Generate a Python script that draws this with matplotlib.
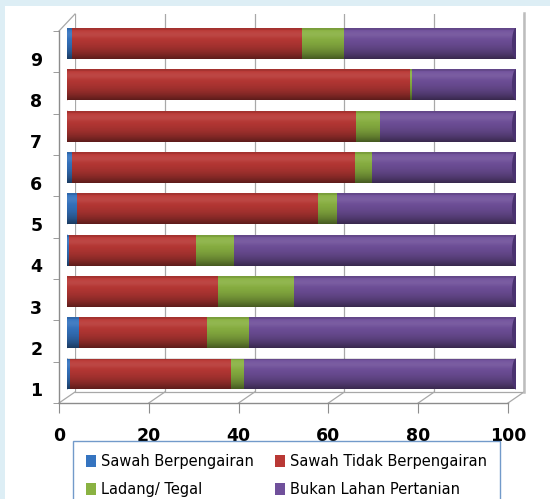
import numpy as np
import matplotlib
matplotlib.use('Agg')
import matplotlib.pyplot as plt
from matplotlib.patches import Rectangle, Ellipse

plt.rcParams['font.family'] = ['DejaVu Sans']

# data (percent of area per kecamatan / row)
kategori = ['1', '2', '3', '4', '5', '6', '7', '8', '9']
sawah_berpengairan = [0.6, 2.7, 0.0, 0.5, 2.3, 1.1, 0.0, 0.0, 1.1]
sawah_tidak = [36.0, 28.5, 33.7, 28.3, 53.7, 63.0, 64.4, 76.5, 51.3]
ladang_tegal = [2.8, 9.3, 16.8, 8.5, 4.1, 3.8, 5.2, 0.3, 9.2]
bukan_pertanian = [60.6, 59.5, 49.5, 62.7, 39.9, 32.1, 30.4, 23.2, 38.4]

nama_seri = ['Sawah Berpengairan', 'Sawah Tidak Berpengairan',
             'Ladang/ Tegal', 'Bukan Lahan Pertanian']
warna = ['#3574C0', '#B93835', '#8AB242', '#70509B']
warna_tutup = ['#2B5C99', '#8E2A28', '#6A8C30', '#4A3270']

W, H = 550, 499
fig = plt.figure(figsize=(W / 100, H / 100), dpi=100)
fig.patch.set_facecolor('#DDEEF5')
fig.patches.append(Rectangle((5 / W, 0), 1, (H - 6) / H, transform=fig.transFigure,
                             facecolor='white', edgecolor='none', zorder=-5))


def px_axes(x0, x1, ytop, ybot, **kw):
    return fig.add_axes([x0 / W, 1 - ybot / H, (x1 - x0) / W, (ybot - ytop) / H], **kw)


# decoration layer in pixel coordinates (3D frame diagonals)
deco = px_axes(0, W, 0, H)
deco.set_xlim(0, W)
deco.set_ylim(H, 0)
deco.axis('off')
deco.patch.set_alpha(0)
gc = '#A8A8A8'
fx = np.linspace(59, 508, 6)
bx = np.linspace(75, 524, 6)
for a, b in zip(fx, bx):
    deco.plot([a, b], [403, 392], color=gc, lw=0.9)
deco.plot([59, 75], [31, 14], color=gc, lw=0.9)
deco.plot([75, 524], [392, 392], color=gc, lw=0.9)
deco.plot([524, 524], [13, 392], color='#BDBDBD', lw=1.8)

# back wall with gridlines
back = px_axes(75, 524, 14, 392)
back.set_xlim(0, 100)
back.set_xticks(np.arange(0, 101, 20))
back.grid(axis='x', color=gc, lw=0.9)
back.tick_params(length=0, labelbottom=False, labelleft=False)
back.set_yticks([])
for s in back.spines.values():
    s.set_visible(False)
back.patch.set_alpha(0)

# bars (middle depth)
ax = px_axes(67, 516, 22.85, 394.65)
ax.patch.set_alpha(0)
ax.axis('off')
y = np.arange(1, len(kategori) + 1)
tinggi = 0.75
seri = [sawah_berpengairan, sawah_tidak, ladang_tegal, bukan_pertanian]
kiri = np.zeros(len(kategori))

# left caps, coloured like the first visible segment
for i in range(len(kategori)):
    first = next(k for k in range(4) if seri[k][i] > 0)
    ax.add_patch(Ellipse((0, y[i]), 1.7, tinggi, facecolor=warna[first],
                         edgecolor='none', zorder=1))

handles = []
for k, vals in enumerate(seri):
    bars = ax.barh(y, vals, left=kiri, height=tinggi, color=warna[k],
                   edgecolor='none', label=nama_seri[k], zorder=2)
    handles.append(bars)
    kiri = kiri + np.array(vals)

# cylinder shading
n = 64
t = np.linspace(0, 1, n)
alpha = 0.5 * t ** 2.6
alpha[t < 0.05] = 0.12
shade = np.zeros((n, 1, 4))
shade[..., 3] = alpha[:, None]
hi = np.zeros((n, 1, 4))
hi[..., :3] = 1
hi[..., 3] = (0.08 * np.exp(-((t - 0.2) / 0.12) ** 2))[:, None]
for i in range(len(kategori)):
    ext = [0, 100, y[i] - tinggi / 2, y[i] + tinggi / 2]
    ax.imshow(shade, extent=ext, aspect='auto', zorder=3, origin='upper')
    ax.imshow(hi, extent=ext, aspect='auto', zorder=3, origin='upper')
    ax.add_patch(Ellipse((100, y[i]), 1.8, tinggi, facecolor=warna_tutup[3],
                         edgecolor='none', zorder=4))
ax.set_xlim(0, 100)
ax.set_ylim(0.5, len(kategori) + 0.5)

# front frame with ticks and labels
front = px_axes(59, 508, 31, 403)
front.patch.set_alpha(0)
front.set_xlim(0, 100)
front.set_ylim(0.5, len(kategori) + 0.5)
front.spines['top'].set_visible(False)
front.spines['right'].set_visible(False)
for s in ('left', 'bottom'):
    front.spines[s].set_color('#8C8C8C')
    front.spines[s].set_linewidth(1.0)
front.set_xticks(np.arange(0, 101, 20))
front.set_yticks(y)
front.set_yticklabels(kategori)
front.set_yticks(np.arange(0.5, len(kategori) + 1, 1), minor=True)
front.tick_params(axis='x', length=7, color='#8C8C8C', pad=10,
                  labelsize=12.5)
front.tick_params(axis='y', which='major', length=0, pad=12, labelsize=12.5)
front.tick_params(axis='y', which='minor', length=4, color='#8C8C8C')
for lab in front.get_xticklabels() + front.get_yticklabels():
    lab.set_fontweight('bold')
for lab in front.get_yticklabels():
    lab.set_va('top')

# legend fills column-wise, so reorder to get row-wise reading
urut = [0, 2, 1, 3]
leg = fig.legend(handles=[handles[i] for i in urut],
                 labels=[nama_seri[i] for i in urut], ncol=2, mode='expand',
                 loc='upper left',
                 bbox_to_anchor=(73 / W, 1 - 441 / H - 0.1, (500 - 73) / W, 0.1),
                 frameon=True, fancybox=False, fontsize=10.5, handlelength=0.7,
                 handleheight=0.85, handletextpad=0.3, borderpad=0.9,
                 labelspacing=0.9, borderaxespad=0, columnspacing=0.5)
leg.get_frame().set_edgecolor('#4F81BD')
leg.get_frame().set_linewidth(1.0)

fig.savefig('out.png', dpi=100, facecolor=fig.get_facecolor())
